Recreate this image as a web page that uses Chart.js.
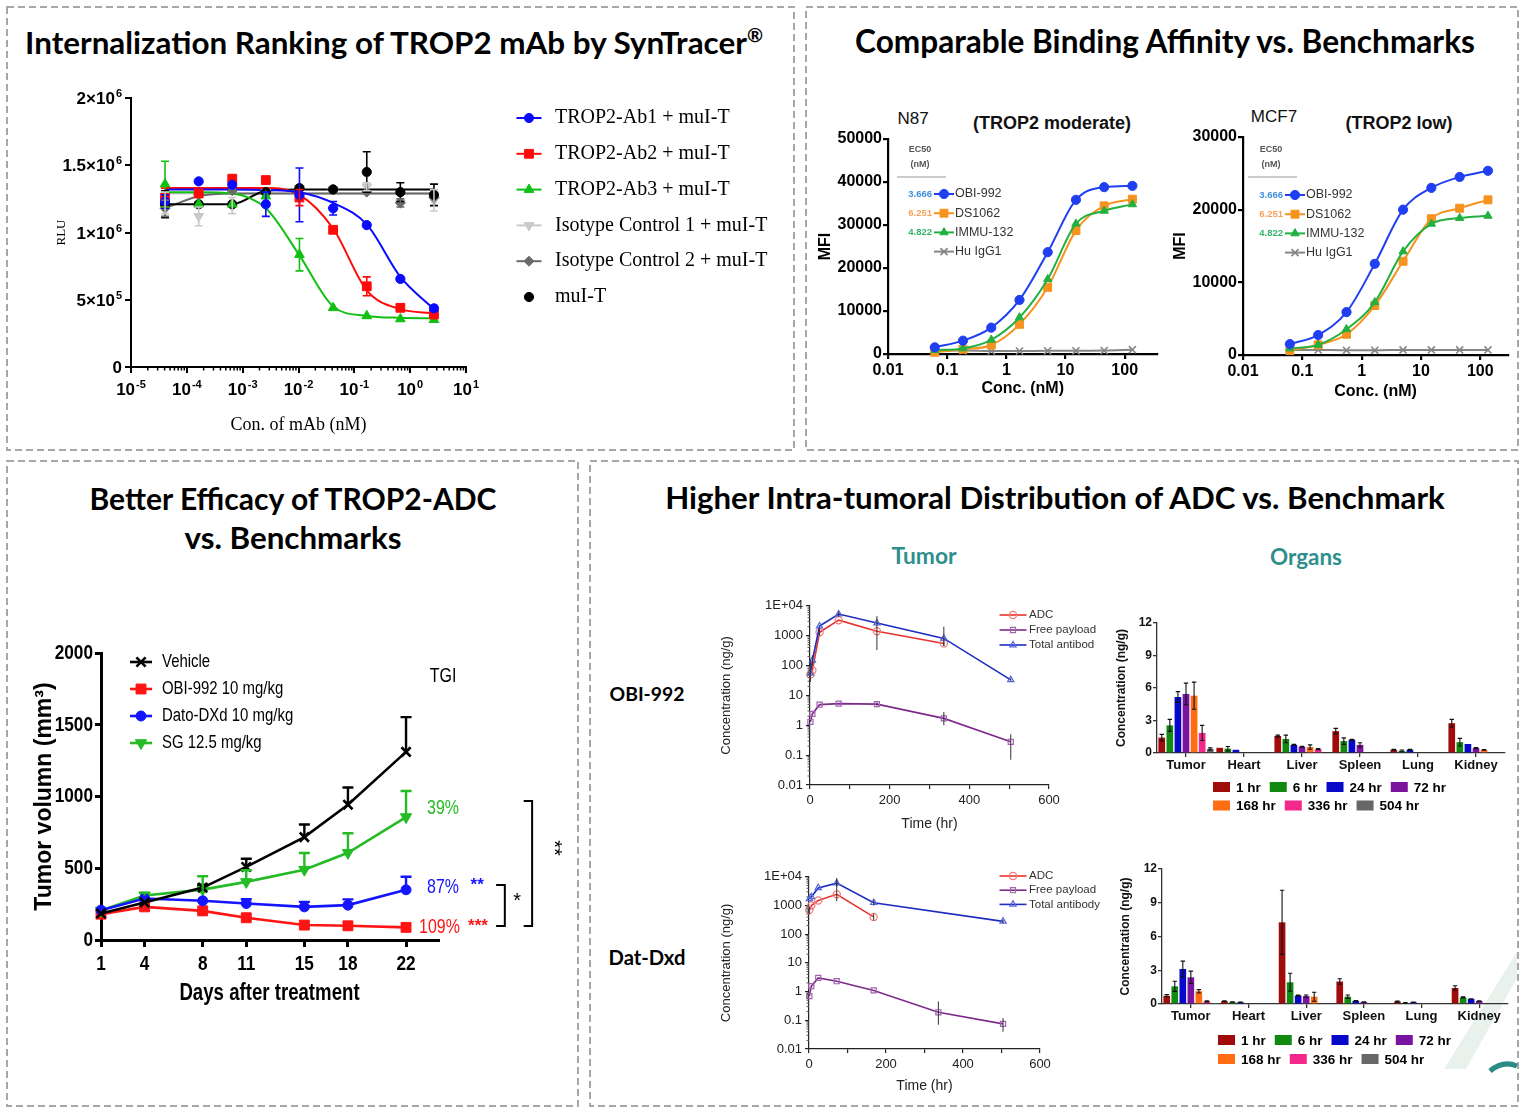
<!DOCTYPE html>
<html lang="en">
<head>
<meta charset="UTF-8" />
<title>TROP2 ADC overview</title>
<script src="https://cdn.jsdelivr.net/npm/chart.js@4.4.1/dist/chart.umd.min.js"></script>
<style>
  html, body { margin: 0; padding: 0; background: #fff; }
  body { position: relative; width: 1525px; height: 1113px; overflow: hidden; font-family: "Liberation Sans", Arial, sans-serif; }
  canvas { position: absolute; }
  #frames { position: absolute; left: 0; top: 0; }
  .t { position: absolute; white-space: nowrap; transform: translate(-50%, -50%); line-height: 1; }
  .title { font-family: Lato, "Open Sans", sans-serif; font-weight: 700; color: #000; }
  .teal { font-family: Lato, "Open Sans", sans-serif; font-weight: 700; color: #2f8f8c; }
  .reg { font-family: "Liberation Sans", Arial, sans-serif; color: #111; }
  .reg b { font-weight: 700; }
  .r { font-size: 0.62em; vertical-align: 0.62em; }
</style>
</head>
<body>
<svg id="frames" width="1525" height="1113">
  <g fill="none" stroke="#a8a8a8" stroke-width="2" stroke-dasharray="7 4">
    <rect x="7" y="7" width="787" height="443" />
    <rect x="806" y="7" width="712" height="443" />
    <rect x="7" y="461" width="571" height="645" />
    <rect x="590" y="461" width="928" height="645" />
  </g>
  <polygon points="1444,1069 1466,1069 1517,978 1517,952" fill="#e8f1ec" />
  <path d="M1490,1071 Q1503,1060 1517,1066" stroke="#2a8c84" stroke-width="5" fill="none" />
</svg>

<div class="t title" data-w="738" style="left:394px;top:42px;font-size:28px">Internalization Ranking of TROP2 mAb by SynTracer<span class="r">®</span></div>
<div class="t title" data-w="620" style="left:1165px;top:42px;font-size:28px">Comparable Binding Affinity vs. Benchmarks</div>
<div class="t title" data-w="407" style="left:293px;top:498px;font-size:28px">Better Efficacy of TROP2-ADC</div>
<div class="t title" data-w="217" style="left:293px;top:538px;font-size:28px">vs. Benchmarks</div>
<div class="t title" data-w="780" style="left:1055px;top:498px;font-size:28px">Higher Intra-tumoral Distribution of ADC vs. Benchmark</div>
<div class="t teal" data-w="65" style="left:924px;top:556px;font-size:20px">Tumor</div>
<div class="t teal" data-w="72" style="left:1306px;top:557px;font-size:20px">Organs</div>
<div class="t title" data-w="75" style="left:647px;top:694px;font-size:20px">OBI-992</div>
<div class="t title" data-w="77" style="left:647px;top:957px;font-size:20px">Dat-Dxd</div>
<div class="t reg" style="left:913px;top:118px;font-size:17px">N87</div>
<div class="t reg" style="left:1052px;top:123px;font-size:18px"><b>(TROP2 moderate)</b></div>
<div class="t reg" style="left:1274px;top:116px;font-size:17px">MCF7</div>
<div class="t reg" style="left:1399px;top:123px;font-size:18px"><b>(TROP2 low)</b></div>

<script>
// ---------------- data ----------------
// SynTracer internalization: RLU vs mAb concentration (nM)
const mabConc = [0.0000407, 0.000163, 0.000651, 0.0026, 0.0104, 0.0417, 0.167, 0.667, 2.667];
const mabTicks = [0.00001, 0.0001, 0.001, 0.01, 0.1, 1, 10];
const mabTickParts = [['10', '-5'], ['10', '-4'], ['10', '-3'], ['10', '-2'], ['10', '-1'], ['10', '0'], ['10', '1']];
const rluTicks = [0, 500000, 1000000, 1500000, 2000000];
const rluTickParts = [['0', ''], ['5×10', '5'], ['1×10', '6'], ['1.5×10', '6'], ['2×10', '6']];
const ab1Rlu = [1230000, 1380000, 1355000, 1210000, 1280000, 1180000, 1055000, 655000, 436000];
const ab1Err = [50000, 0, 0, 90000, 200000, 50000, 0, 0, 20000];
const ab1Fit = [1320000, 1320000, 1320000, 1316000, 1300000, 1220000, 1060000, 670000, 430000];
const ab2Rlu = [1260000, 1290000, 1400000, 1390000, 1260000, 1020000, 600000, 440000, 390000];
const ab2Err = [70000, 0, 0, 0, 60000, 0, 70000, 0, 0];
const ab2Fit = [1330000, 1330000, 1330000, 1330000, 1280000, 1030000, 570000, 430000, 400000];
const ab3Rlu = [1360000, 1210000, 1210000, 1270000, 835000, 440000, 380000, 357000, 352000];
const ab3Err = [170000, 0, 0, 0, 120000, 0, 0, 0, 0];
const ab3Fit = [1300000, 1300000, 1290000, 1180000, 830000, 450000, 380000, 366000, 362000];
const iso1Rlu = [1220000, 1120000, 1200000, 1300000, 1330000, 1320000, 1340000, 1220000, 1240000];
const iso1Err = [80000, 70000, 60000, 0, 0, 0, 30000, 0, 80000];
const iso1Fit = [1290000, 1290000, 1290000, 1290000, 1290000, 1290000, 1290000, 1290000, 1290000];
const iso2Rlu = [1180000, 1280000, 1310000, 1300000, 1330000, 1320000, 1300000, 1220000, 1260000];
const iso2Err = [60000, 0, 0, 0, 0, 0, 0, 30000, 0];
const iso2Fit = [1180000, 1270000, 1290000, 1290000, 1290000, 1290000, 1290000, 1290000, 1290000];
const muiRlu = [1210000, 1210000, 1210000, 1300000, 1330000, 1320000, 1450000, 1300000, 1280000];
const muiErr = [100000, 0, 0, 0, 0, 0, 150000, 70000, 80000];
const muiFit = [1210000, 1210000, 1210000, 1310000, 1320000, 1320000, 1320000, 1320000, 1320000];

// binding (MFI) vs concentration (nM)
const bindConc = [0.0617, 0.185, 0.556, 1.667, 5, 15, 45, 135];
const concTicks = [0.01, 0.1, 1, 10, 100];
const concTickLabels = ['0.01', '0.1', '1', '10', '100'];
const n87Obi = [1550, 3100, 6130, 12570, 23670, 35850, 38800, 39100];
const n87Ds = [400, 1100, 2100, 6900, 15500, 28700, 34450, 36000];
const n87Immu = [900, 1300, 3300, 8500, 17400, 30300, 33300, 34800];
const n87Igg = [800, 800, 700, 700, 750, 750, 800, 1000];
const mcf7Obi = [1500, 2750, 5900, 12550, 20000, 23000, 24500, 25350];
const mcf7Ds = [600, 1400, 2850, 6800, 12900, 18750, 20200, 21350];
const mcf7Immu = [900, 1400, 3550, 7250, 14250, 18050, 18850, 19150];
const mcf7Igg = [700, 700, 650, 650, 700, 700, 700, 700];
const ec50Labels = ['3.666', '6.251', '4.822'];

// xenograft efficacy: tumor volume (mm3), mean and SEM
const days = [1, 4, 8, 11, 15, 18, 22];
const vehicleVol = [185, 261, 365, 509, 717, 943, 1311];
const vehicleSem = [0, 0, 20, 57, 88, 120, 242];
const obiVol = [180, 231, 203, 155, 104, 99, 88];
const obiSem = [0, 0, 0, 0, 0, 0, 0];
const datoVol = [208, 289, 273, 254, 231, 243, 350];
const datoSem = [0, 0, 0, 30, 35, 40, 91];
const sgVol = [205, 310, 351, 405, 490, 608, 857];
const sgSem = [0, 20, 93, 81, 116, 136, 181];
const tgiLabels = ['39%', '87%', '109%'];

// tumor PK (ng/g) vs time (hr)
const pkHours = [1, 6, 24, 72, 168, 336, 504];
const pkTicks = [0.01, 0.1, 1, 10, 100, 1000, 10000];
const pkTickLabels = ['0.01', '0.1', '1', '10', '100', '1000', '1E+04'];
const obiAdc = [50, 70, 1300, 3300, 1400, 550, null];
const obiAdcRange = [null, null, [1000, 1800], null, [330, 4500], [450, 650], null];
const obiPayload = [1.3, 2.4, 4.9, 5.3, 5.1, 1.7, 0.28];
const obiPayloadRange = [null, null, null, null, [4.5, 5.8], [1.0, 2.8], [0.07, 0.5]];
const obiTotal = [55, 150, 2100, 5300, 2650, 810, 33];
const obiTotalRange = [[28, 160], [100, 220], null, [4300, 6300], null, [450, 2000], [30, 37]];
const dxdAdc = [700, 1000, 1500, 2450, 400, null, null];
const dxdAdcRange = [[500, 900], null, null, [1400, 9000], [300, 520], null, null];
const dxdPayload = [0.7, 1.55, 3.0, 2.3, 1.1, 0.19, 0.075];
const dxdPayloadRange = [null, null, null, null, null, [0.07, 0.45], [0.04, 0.12]];
const dxdTotal = [1700, 2000, 4100, 6000, 1250, null, 280];
const dxdTotalRange = [null, null, null, [4500, 8000], [1000, 1500], null, [240, 320]];

// organ payload concentration (ng/g) by time point
const organs = ['Tumor', 'Heart', 'Liver', 'Spleen', 'Lung', 'Kidney'];
const timeLabels = ['1 hr', '6 hr', '24 hr', '72 hr', '168 hr', '336 hr', '504 hr'];
const obiOrgan = [
  [1.42, 0.48, 1.57, 2.02, 0.30, 2.75],
  [2.55, 0.40, 1.30, 1.10, 0.20, 1.00],
  [5.17, 0.30, 0.75, 1.22, 0.30, 0.83],
  [5.45, null, 0.58, 0.75, null, 0.45],
  [5.29, null, 0.55, null, null, 0.30],
  [1.85, null, 0.35, null, null, null],
  [0.37, null, null, null, null, null]
];
const obiOrganSd = [
  [0.30, 0, 0.08, 0.25, 0.05, 0.35],
  [0.55, 0.20, 0.35, 0.30, 0.08, 0.35],
  [0.50, 0, 0.05, 0.05, 0.05, 0],
  [1.00, 0, 0.05, 0.20, 0, 0.05],
  [1.25, 0, 0.20, 0, 0, 0.03],
  [0.70, 0, 0.05, 0, 0, 0],
  [0.10, 0, 0, 0, 0, 0]
];
const dxdOrgan = [
  [0.74, 0.25, 7.26, 2.00, 0.22, 1.42],
  [1.57, 0.18, 1.93, 0.65, 0.10, 0.58],
  [3.11, 0.15, 0.75, 0.28, 0.15, 0.45],
  [2.37, null, 0.70, 0.18, null, 0.27],
  [1.13, null, 0.65, null, null, null],
  [0.24, null, null, null, null, null],
  [0.09, null, null, null, null, null]
];
const dxdOrganSd = [
  [0.10, 0.03, 2.85, 0.25, 0.05, 0.20],
  [0.45, 0.02, 0.80, 0.15, 0.02, 0.05],
  [0.70, 0.02, 0.05, 0.02, 0.02, 0.02],
  [0.55, 0, 0.10, 0.02, 0, 0.02],
  [0.15, 0, 0.40, 0, 0, 0],
  [0.05, 0, 0, 0, 0, 0],
  [0, 0, 0, 0, 0, 0]
];
const timeColors = ['#a00c0c', '#128a12', '#0808c8', '#7a149e', '#ff6c12', '#f4288a', '#676767'];

// ---------------- helpers ----------------
const SANS = '"Liberation Sans", Arial, sans-serif';
const SERIF = '"Liberation Serif", "Times New Roman", serif';
const NARROW_X = 0.82; // squeeze for the Arial Narrow look of the efficacy panel

Chart.defaults.font.family = SANS;
Chart.defaults.color = '#000';
Chart.defaults.plugins.legend.display = false;
Chart.defaults.plugins.tooltip.enabled = false;

const xy = (xs, ys) => xs.map((x, i) => ({ x, y: ys[i] }));
const blank = () => '';

function frame(color, width, tick) {
  return {
    grid: { display: true, drawOnChartArea: false, drawTicks: true, tickLength: tick, color, lineWidth: width },
    border: { display: true, color, width }
  };
}

function drawErrors(chart) {
  const ctx = chart.ctx;
  chart.data.datasets.forEach((ds, di) => {
    if (!ds.errors) return;
    const meta = chart.getDatasetMeta(di);
    const ys = chart.scales[meta.yAxisID];
    ctx.save();
    ctx.strokeStyle = ds.errorColor || ds.borderColor;
    ctx.lineWidth = ds.errorWidth || 1.5;
    ds.errors.forEach((e, i) => {
      const el = meta.data[i];
      const raw = ds.data[i];
      const v = raw !== null && typeof raw === 'object' ? raw.y : raw;
      if (!e || v === null || v === undefined || !el) return;
      let lo, hi;
      if (Array.isArray(e)) { lo = e[0]; hi = e[1]; }
      else { hi = v + e; lo = ds.errorMode === 'up' ? v : v - e; }
      const x = el.x;
      const y1 = ys.getPixelForValue(hi), y0 = ys.getPixelForValue(lo);
      const c = ds.errorCap === undefined ? 4 : ds.errorCap;
      ctx.beginPath();
      ctx.moveTo(x, y0); ctx.lineTo(x, y1);
      if (c > 0) {
        ctx.moveTo(x - c, y1); ctx.lineTo(x + c, y1);
        if (ds.errorMode !== 'up') { ctx.moveTo(x - c, y0); ctx.lineTo(x + c, y0); }
      }
      ctx.stroke();
    });
    ctx.restore();
  });
}

function drawMarker(ctx, ds, x, y) {
  const bw = ds.pointBorderWidth === undefined ? 1 : ds.pointBorderWidth;
  ctx.save();
  ctx.fillStyle = ds.pointBackgroundColor || ds.borderColor;
  ctx.strokeStyle = ds.pointBorderColor || ds.borderColor;
  ctx.lineWidth = bw;
  Chart.helpers.drawPoint(ctx, {
    pointStyle: ds.pointStyle || 'circle', radius: ds.pointRadius || 3,
    rotation: ds.pointRotation || 0, borderWidth: bw
  }, x, y);
  ctx.restore();
}

const findSet = (chart, key) => chart.data.datasets.find(d => d.key === key);

function squeezedText(ctx, text, x, y, sx, align) {
  ctx.save();
  ctx.translate(x, y);
  ctx.scale(sx || 1, 1);
  ctx.textAlign = align || 'left';
  ctx.fillText(text, 0, 0);
  ctx.restore();
}

function drawLegend(chart, lg) {
  const ctx = chart.ctx, ox = chart.canvas.offsetLeft, oy = chart.canvas.offsetTop;
  ctx.save();
  ctx.textBaseline = 'middle';
  lg.items.forEach((it, i) => {
    const ds = findSet(chart, it.mark);
    const ls = findSet(chart, it.line || it.mark);
    const x = lg.x - ox, y = lg.y - oy + i * lg.gap;
    if (it.noLine !== true) {
      ctx.strokeStyle = ls.borderColor;
      ctx.lineWidth = ls.borderWidth || 2;
      ctx.beginPath(); ctx.moveTo(x - lg.len / 2, y); ctx.lineTo(x + lg.len / 2, y); ctx.stroke();
    }
    drawMarker(ctx, ds, x, y);
    if (it.pre) {
      ctx.font = lg.preFont; ctx.fillStyle = it.preColor;
      squeezedText(ctx, it.pre, x - lg.len / 2 - 2, y, 1, 'right');
    }
    ctx.font = lg.font; ctx.fillStyle = lg.color || '#000';
    squeezedText(ctx, it.text, x + lg.dx, y + (lg.dy || 0), lg.sx, 'left');
  });
  ctx.restore();
}

function drawBoxLegend(chart, lg) {
  const ctx = chart.ctx, ox = chart.canvas.offsetLeft, oy = chart.canvas.offsetTop;
  ctx.save();
  ctx.font = lg.font; ctx.textBaseline = 'middle'; ctx.textAlign = 'left';
  let x = lg.x - ox, y = lg.y - oy;
  chart.data.datasets.forEach((ds, i) => {
    if (i === lg.breakAfter) { x = lg.x - ox; y += lg.rowGap; }
    ctx.fillStyle = ds.backgroundColor;
    ctx.fillRect(x, y - lg.bh / 2, lg.bw, lg.bh);
    ctx.fillStyle = '#000';
    ctx.fillText(ds.label, x + lg.bw + lg.gap, y + 1);
    x += lg.bw + lg.gap + ctx.measureText(ds.label).width + lg.spacing;
  });
  ctx.restore();
}

// notes: text / polylines, either in page pixels or in data units (data: true)
function drawNotes(chart, notes) {
  const ctx = chart.ctx, ox = chart.canvas.offsetLeft, oy = chart.canvas.offsetTop;
  const sx = chart.scales.x, sy = chart.scales.y;
  const pos = (n, x, y) => n.data ? [sx.getPixelForValue(x), sy.getPixelForValue(y)] : [x - ox, y - oy];
  ctx.save();
  notes.forEach(n => {
    if (n.pts) {
      ctx.strokeStyle = n.color || '#000'; ctx.lineWidth = n.width || 1.5;
      ctx.beginPath();
      n.pts.forEach((p, i) => { const [px, py] = pos(n, p[0], p[1]); i ? ctx.lineTo(px, py) : ctx.moveTo(px, py); });
      ctx.stroke();
      return;
    }
    const [px, py] = pos(n, n.x, n.y);
    ctx.save();
    ctx.translate(px, py);
    if (n.rot) ctx.rotate(n.rot * Math.PI / 180);
    ctx.scale(n.sx || 1, 1);
    ctx.font = n.font; ctx.fillStyle = n.color || '#000';
    ctx.textAlign = n.align || 'center'; ctx.textBaseline = 'middle';
    ctx.fillText(n.text, 0, 0);
    ctx.restore();
  });
  ctx.restore();
}

function drawMinor(chart, m) {
  const s = chart.scales[m.axis], ctx = chart.ctx;
  ctx.save();
  ctx.strokeStyle = m.color || '#000'; ctx.lineWidth = m.width || 1;
  ctx.beginPath();
  for (let e = Math.floor(Math.log10(s.min)); e <= Math.ceil(Math.log10(s.max)); e++) {
    for (let k = 2; k <= 9; k++) {
      const v = k * Math.pow(10, e);
      if (v < s.min || v > s.max) continue;
      const p = s.getPixelForValue(v);
      if (s.isHorizontal()) { ctx.moveTo(p, s.top); ctx.lineTo(p, s.top + m.len); }
      else { ctx.moveTo(s.right, p); ctx.lineTo(s.right - m.len, p); }
    }
  }
  ctx.stroke();
  ctx.restore();
}

// tick labels drawn as base + raised exponent (10^-5, 2x10^6)
function drawPowLabels(chart, p) {
  const s = chart.scales[p.axis], ctx = chart.ctx;
  ctx.save();
  ctx.fillStyle = '#000'; ctx.textBaseline = 'alphabetic'; ctx.textAlign = 'left';
  s.ticks.forEach((t, i) => {
    const [base, exp] = p.parts[i];
    ctx.font = p.font; const wb = ctx.measureText(base).width;
    ctx.font = p.expFont; const we = exp ? ctx.measureText(exp).width + 1 : 0;
    const v = s.getPixelForValue(t.value);
    let x0, y0;
    if (s.isHorizontal()) { x0 = v - (wb + we) / 2; y0 = s.top + p.gap; }
    else { x0 = s.right - p.gap - wb - we; y0 = v + p.base; }
    ctx.font = p.font; ctx.fillText(base, x0, y0);
    if (exp) { ctx.font = p.expFont; ctx.fillText(exp, x0 + wb + 1, y0 - p.rise); }
  });
  ctx.restore();
}

// squeezed tick labels (value text) for the narrow-font panel
function drawTickText(chart, p) {
  const s = chart.scales[p.axis], ctx = chart.ctx;
  ctx.save();
  ctx.font = p.font; ctx.fillStyle = p.color || '#000'; ctx.textBaseline = 'middle';
  s.ticks.forEach(t => {
    const v = s.getPixelForValue(t.value);
    if (s.isHorizontal()) squeezedText(ctx, String(t.value), v, s.top + p.gap, p.sx, 'center');
    else squeezedText(ctx, String(t.value), s.right - p.gap, v, p.sx, 'right');
  });
  ctx.restore();
}

Chart.register({
  id: 'overlay',
  afterDatasetsDraw(chart) { drawErrors(chart); },
  afterDraw(chart) {
    const ex = chart.canvas.extra || {};
    if (ex.minor) ex.minor.forEach(m => drawMinor(chart, m));
    if (ex.pow) ex.pow.forEach(p => drawPowLabels(chart, p));
    if (ex.tickText) ex.tickText.forEach(p => drawTickText(chart, p));
    if (ex.legend) drawLegend(chart, ex.legend);
    if (ex.boxLegend) drawBoxLegend(chart, ex.boxLegend);
    if (ex.notes) drawNotes(chart, ex.notes);
  }
});

// box: canvas rectangle on the page, area: wanted plot area on the page
function makeChart(box, area, config, extra) {
  const canvas = document.createElement('canvas');
  canvas.width = box.w; canvas.height = box.h;
  canvas.style.left = box.x + 'px'; canvas.style.top = box.y + 'px';
  canvas.style.width = box.w + 'px'; canvas.style.height = box.h + 'px';
  canvas.extra = extra || {};
  document.body.appendChild(canvas);
  const o = config.options;
  o.responsive = false;
  o.animation = false;
  o.layout = { padding: { left: 0, top: area.t - box.y, right: box.x + box.w - area.r, bottom: 0 } };
  o.scales.x.afterFit = s => { s.height = box.y + box.h - area.b; };
  o.scales.y.afterFit = s => { s.width = area.l - box.x; };
  return new Chart(canvas, config);
}

function markSet(key, pts, errs, color, style, r, rot, errColor) {
  return {
    key, data: pts, showLine: false, clip: false,
    pointStyle: style, pointRadius: r, pointRotation: rot || 0, pointBorderWidth: 1,
    pointBackgroundColor: color, pointBorderColor: color, borderColor: color, backgroundColor: color,
    errors: errs, errorColor: errColor || color, errorCap: 4, errorWidth: 1.6
  };
}
function fitSet(key, pts, color, width) {
  return {
    key, data: pts, borderColor: color, borderWidth: width || 2, pointRadius: 0,
    cubicInterpolationMode: 'monotone', clip: false
  };
}

// ---------------- A: internalization ----------------
makeChart({ x: 40, y: 78, w: 740, h: 372 }, { l: 131, r: 466, t: 98, b: 367 }, {
  type: 'line',
  data: {
    datasets: [
      markSet('ab1', xy(mabConc, ab1Rlu), ab1Err, '#0a0aff', 'circle', 4.6),
      markSet('ab2', xy(mabConc, ab2Rlu), ab2Err, '#ff0a0a', 'rect', 6.2),
      markSet('ab3', xy(mabConc, ab3Rlu), ab3Err, '#12c012', 'triangle', 5.6),
      markSet('mui', xy(mabConc, muiRlu), muiErr, '#000000', 'circle', 4.6),
      markSet('iso2', xy(mabConc, iso2Rlu), iso2Err, '#6a6a6a', 'rectRot', 5),
      markSet('iso1', xy(mabConc, iso1Rlu), iso1Err, '#c9c9c9', 'triangle', 5.6, 180),
      fitSet('ab1Fit', xy(mabConc, ab1Fit), '#0a0aff'),
      fitSet('ab2Fit', xy(mabConc, ab2Fit), '#ff0a0a'),
      fitSet('ab3Fit', xy(mabConc, ab3Fit), '#12c012'),
      fitSet('muiFit', xy(mabConc, muiFit), '#000000'),
      fitSet('iso2Fit', xy(mabConc, iso2Fit), '#6a6a6a'),
      fitSet('iso1Fit', xy(mabConc, iso1Fit), '#c9c9c9')
    ]
  },
  options: {
    scales: {
      x: {
        type: 'logarithmic', min: 0.00001, max: 10,
        afterBuildTicks: s => { s.ticks = mabTicks.map(v => ({ value: v })); },
        ...frame('#000', 2, 6),
        ticks: { font: { size: 16, weight: 'bold' }, padding: 6, maxRotation: 0, callback: blank },
        title: { display: true, text: 'Con. of mAb (nM)', font: { family: SERIF, size: 18 }, padding: { top: 0, bottom: 14 } }
      },
      y: {
        min: 0, max: 2000000,
        afterBuildTicks: s => { s.ticks = rluTicks.map(v => ({ value: v })); },
        ...frame('#000', 2, 6),
        ticks: { font: { size: 16, weight: 'bold' }, padding: 1, callback: blank },
        title: { display: true, text: 'RLU', font: { family: SERIF, size: 13 }, padding: { top: 14, bottom: 0 } }
      }
    }
  }
}, {
  minor: [{ axis: 'x', len: 3.5, width: 1.5 }],
  pow: [
    { axis: 'x', parts: mabTickParts, font: 'bold 17px ' + SANS, expFont: 'bold 11px ' + SANS, gap: 28, rise: 7 },
    { axis: 'y', parts: rluTickParts, font: 'bold 17px ' + SANS, expFont: 'bold 11px ' + SANS, gap: 9, base: 6, rise: 7 }
  ],
  legend: {
    x: 529, y: 118, gap: 35.8, len: 25, dx: 26, font: '20px ' + SERIF, color: '#000',
    items: [
      { text: 'TROP2-Ab1 + muI-T', mark: 'ab1', line: 'ab1Fit' },
      { text: 'TROP2-Ab2 + muI-T', mark: 'ab2', line: 'ab2Fit' },
      { text: 'TROP2-Ab3 + muI-T', mark: 'ab3', line: 'ab3Fit' },
      { text: 'Isotype Control 1 + muI-T', mark: 'iso1', line: 'iso1Fit' },
      { text: 'Isotype Control 2 + muI-T', mark: 'iso2', line: 'iso2Fit' },
      { text: 'muI-T', mark: 'mui', noLine: true }
    ]
  }
});

// ---------------- B: binding ----------------
function bindSet(key, ys, color, style, r, bw) {
  return {
    key, data: xy(bindConc, ys), borderColor: color, borderWidth: 2, clip: false,
    pointStyle: style, pointRadius: r, pointBorderWidth: bw || 1,
    pointBackgroundColor: color, pointBorderColor: color, cubicInterpolationMode: 'monotone'
  };
}
const ec50Colors = ['#3d8fdc', '#f5a25a', '#35b46a'];
function bindChart(box, area, xMax, yMax, sets, lg) {
  return makeChart(box, area, {
    type: 'line',
    data: { datasets: sets },
    options: {
      scales: {
        x: {
          type: 'logarithmic', min: 0.01, max: xMax,
          afterBuildTicks: s => { s.ticks = concTicks.map(v => ({ value: v })); },
          ...frame('#000', 2.2, 5),
          ticks: { font: { size: 16, weight: 'bold' }, padding: 2, maxRotation: 0, callback: (v, i) => concTickLabels[i] },
          title: { display: true, text: 'Conc. (nM)', font: { size: 16, weight: 'bold' }, padding: { top: 0, bottom: lg.titlePad } }
        },
        y: {
          min: 0, max: yMax,
          ...frame('#000', 2.2, 5),
          ticks: { font: { size: 16, weight: 'bold' }, padding: 1, stepSize: 10000, callback: v => String(v) },
          title: { display: true, text: 'MFI', font: { size: 16, weight: 'bold' }, padding: { top: lg.yTitlePad, bottom: 0 } }
        }
      }
    }
  }, {
    legend: {
      x: lg.x, y: lg.y, gap: 19.2, len: 20, dx: 11, font: '12.5px ' + SANS, color: '#333',
      preFont: 'bold 9.5px ' + SANS,
      items: [
        { text: 'OBI-992', mark: 'obi', pre: ec50Labels[0], preColor: ec50Colors[0] },
        { text: 'DS1062', mark: 'ds', pre: ec50Labels[1], preColor: ec50Colors[1] },
        { text: 'IMMU-132', mark: 'immu', pre: ec50Labels[2], preColor: ec50Colors[2] },
        { text: 'Hu IgG1', mark: 'igg' }
      ]
    },
    notes: [
      { text: 'EC50', x: lg.hx, y: 150, font: 'bold 9px ' + SANS, color: '#555' },
      { text: '(nM)', x: lg.hx, y: 165, font: 'bold 9px ' + SANS, color: '#555' },
      { pts: [[lg.hx - 23, 177], [lg.hx + 26, 177]], color: '#9a9a9a', width: 1.2 }
    ]
  });
}
bindChart({ x: 812, y: 105, w: 352, h: 303 }, { l: 888, r: 1158, t: 139, b: 354 }, 357, 50000, [
  bindSet('obi', n87Obi, '#1f3ff0', 'circle', 4.6),
  bindSet('immu', n87Immu, '#22b040', 'triangle', 4.8),
  bindSet('ds', n87Ds, '#f7921e', 'rect', 5.6),
  bindSet('igg', n87Igg, '#858585', 'crossRot', 5, 1.6)
], { x: 944, y: 194, hx: 920, titlePad: 10, yTitlePad: 4 });
bindChart({ x: 1170, y: 105, w: 345, h: 303 }, { l: 1243, r: 1508, t: 137, b: 355 }, 294, 30000, [
  bindSet('obi', mcf7Obi, '#1f3ff0', 'circle', 4.6),
  bindSet('immu', mcf7Immu, '#22b040', 'triangle', 4.8),
  bindSet('ds', mcf7Ds, '#f7921e', 'rect', 5.6),
  bindSet('igg', mcf7Igg, '#858585', 'crossRot', 5, 1.6)
], { x: 1295, y: 195, hx: 1271, titlePad: 7, yTitlePad: 1 });

// ---------------- C: efficacy ----------------
function volSet(key, ys, errs, color, style, r, rot, bw) {
  return {
    key, data: xy(days, ys), borderColor: color, borderWidth: 2.6, clip: false,
    pointStyle: style, pointRadius: r, pointRotation: rot || 0, pointBorderWidth: bw || 1,
    pointBackgroundColor: color, pointBorderColor: color,
    errors: errs, errorMode: 'up', errorColor: color, errorCap: 5.5, errorWidth: 2.4
  };
}
const tgiFont = '21px ' + SANS;
const TGI_X = 0.76;
makeChart({ x: 15, y: 630, w: 560, h: 390 }, { l: 101, r: 438, t: 653, b: 940 }, {
  type: 'line',
  data: {
    datasets: [
      volSet('veh', vehicleVol, vehicleSem, '#000000', 'crossRot', 6.5, 0, 2.6),
      volSet('dato', datoVol, datoSem, '#1414ff', 'circle', 5),
      volSet('sg', sgVol, sgSem, '#24bb24', 'triangle', 6.5, 180),
      volSet('obi', obiVol, obiSem, '#ff1414', 'rect', 7)
    ]
  },
  options: {
    scales: {
      x: {
        type: 'linear', min: 1, max: 24.2,
        afterBuildTicks: s => { s.ticks = days.map(v => ({ value: v })); },
        ...frame('#000', 3, 7),
        ticks: { padding: 4, maxRotation: 0, callback: blank },
        title: { display: false }
      },
      y: {
        min: 0, max: 2000,
        ...frame('#000', 3, 6),
        ticks: { padding: 2, stepSize: 500, callback: blank },
        title: { display: true, text: 'Tumor volumn (mm³)', font: { size: 23, weight: 'bold' }, padding: { top: 16, bottom: 0 } }
      }
    }
  }
}, {
  tickText: [
    { axis: 'x', font: 'bold 21px ' + SANS, sx: NARROW_X, gap: 24 },
    { axis: 'y', font: 'bold 21px ' + SANS, sx: NARROW_X, gap: 8 }
  ],
  legend: {
    x: 141, y: 662, gap: 27, len: 22, dx: 21, font: '18px ' + SANS, sx: 0.83, color: '#000',
    items: [
      { text: 'Vehicle', mark: 'veh' },
      { text: 'OBI-992 10 mg/kg', mark: 'obi' },
      { text: 'Dato-DXd 10 mg/kg', mark: 'dato' },
      { text: 'SG 12.5 mg/kg', mark: 'sg' }
    ]
  },
  notes: [
    { text: 'Days after treatment', x: 269.5, y: 994, font: 'bold 23px ' + SANS, sx: 0.81 },
    { data: true, text: 'TGI', x: 24.55, y: 1840, font: tgiFont, sx: TGI_X, color: '#000' },
    { data: true, text: tgiLabels[0], x: 24.55, y: 920, font: tgiFont, sx: TGI_X, color: '#24bb24' },
    { data: true, text: tgiLabels[1], x: 24.55, y: 369, font: tgiFont, sx: TGI_X, color: '#1414ff' },
    { data: true, text: '**', x: 26.9, y: 383, font: 'bold 17px ' + SANS, color: '#1414ff' },
    { data: true, text: tgiLabels[2], x: 24.3, y: 91, font: tgiFont, sx: TGI_X, color: '#ff1414' },
    { data: true, text: '***', x: 26.95, y: 98, font: 'bold 17px ' + SANS, color: '#ff1414' },
    { data: true, pts: [[28.2, 383], [28.8, 383], [28.8, 98], [28.2, 98]], color: '#000', width: 2 },
    { data: true, text: '*', x: 29.65, y: 265, font: '20px ' + SANS, color: '#000' },
    { data: true, pts: [[30.1, 969], [30.68, 969], [30.68, 98], [30.1, 98]], color: '#000', width: 2 },
    { data: true, text: '**', x: 32.15, y: 641, rot: 90, font: '20px ' + SANS, color: '#000' }
  ]
});

// ---------------- D: tumor PK ----------------
function pkSet(key, ys, ranges, line, mark, style) {
  return {
    key, data: xy(pkHours, ys), borderColor: line, borderWidth: 1.6, clip: false, spanGaps: true,
    pointStyle: style, pointRadius: 3.6, pointBorderWidth: 1.2,
    pointBackgroundColor: 'rgba(255,255,255,0)', pointBorderColor: mark,
    errors: ranges, errorColor: '#333', errorWidth: 1, errorCap: 0
  };
}
function pkChart(box, area, sets, lg, titlePad) {
  return makeChart(box, area, {
    type: 'line',
    data: { datasets: sets },
    options: {
      scales: {
        x: {
          type: 'linear', min: 0, max: 600,
          ...frame('#222', 1.2, 4),
          ticks: { font: { size: 13 }, color: '#222', padding: 4, stepSize: 100, maxRotation: 0, callback: v => (v % 200 === 0 ? String(v) : '') },
          title: { display: true, text: 'Time (hr)', font: { size: 14 }, color: '#222', padding: { top: 0, bottom: titlePad } }
        },
        y: {
          type: 'logarithmic', min: 0.01, max: 10000,
          afterBuildTicks: s => { s.ticks = pkTicks.map(v => ({ value: v })); },
          ...frame('#222', 1.2, 4),
          ticks: { font: { size: 13 }, color: '#222', padding: 3, callback: (v, i) => pkTickLabels[i] },
          title: { display: true, text: 'Concentration (ng/g)', font: { size: 13 }, color: '#222', padding: { top: 4, bottom: 0 } }
        }
      }
    }
  }, {
    minor: [{ axis: 'y', len: 2.5, width: 1, color: '#555' }],
    legend: { x: 1013, y: lg.y, gap: lg.gap, len: 27, dx: 16, font: '11.5px ' + SANS, color: '#333', items: lg.items }
  });
}
pkChart({ x: 715, y: 595, w: 395, h: 245 }, { l: 810, r: 1049, t: 605, b: 785 }, [
  pkSet('tot', obiTotal, obiTotalRange, '#1c2cc0', '#5565dc', 'triangle'),
  pkSet('adc', obiAdc, obiAdcRange, '#e8322d', '#f07a78', 'circle'),
  pkSet('pay', obiPayload, obiPayloadRange, '#7d2a8a', '#a064b0', 'rect')
], { y: 615, gap: 15, items: [
  { text: 'ADC', mark: 'adc' }, { text: 'Free payload', mark: 'pay' }, { text: 'Total antibod', mark: 'tot' }
] }, 7);
pkChart({ x: 715, y: 866, w: 395, h: 232 }, { l: 809, r: 1040, t: 876, b: 1049 }, [
  pkSet('tot', dxdTotal, dxdTotalRange, '#1c2cc0', '#5565dc', 'triangle'),
  pkSet('adc', dxdAdc, dxdAdcRange, '#e8322d', '#f07a78', 'circle'),
  pkSet('pay', dxdPayload, dxdPayloadRange, '#7d2a8a', '#a064b0', 'rect')
], { y: 876, gap: 14.2, items: [
  { text: 'ADC', mark: 'adc' }, { text: 'Free payload', mark: 'pay' }, { text: 'Total antibody', mark: 'tot' }
] }, 3);

// ---------------- D: organ distribution ----------------
function organChart(box, area, values, sds, lg) {
  return makeChart(box, area, {
    type: 'bar',
    data: {
      labels: organs,
      datasets: timeLabels.map((t, i) => ({
        label: t, data: values[i], backgroundColor: timeColors[i],
        barPercentage: 0.83, categoryPercentage: 0.975,
        errors: sds[i], errorColor: '#111', errorWidth: 1.1, errorCap: 2.2
      }))
    },
    options: {
      scales: {
        x: {
          ...frame('#333', 1.3, 4),
          grid: { display: true, drawOnChartArea: false, drawTicks: true, tickLength: 4, color: '#333', lineWidth: 1.3, offset: false },
          ticks: { font: { size: 13, weight: 'bold' }, color: '#111', padding: 1, maxRotation: 0 }
        },
        y: {
          min: 0, max: 12,
          ...frame('#333', 1.3, 4),
          ticks: { font: { size: 12, weight: 'bold' }, color: '#111', padding: 1, stepSize: 3 },
          title: { display: true, text: 'Concentration (ng/g)', font: { size: 12, weight: 'bold' }, color: '#111', padding: { top: lg.yTitlePad, bottom: 0 } }
        }
      }
    }
  }, {
    boxLegend: { x: lg.x, y: lg.y, rowGap: lg.rowGap, breakAfter: 4, bw: 17, bh: 10, gap: 6, spacing: 9, font: 'bold 13.5px ' + SANS }
  });
}
organChart({ x: 1108, y: 612, w: 405, h: 205 }, { l: 1157, r: 1505, t: 623, b: 753 }, obiOrgan, obiOrganSd,
  { x: 1213, y: 787, rowGap: 18.5, yTitlePad: 6 });
organChart({ x: 1110, y: 858, w: 405, h: 212 }, { l: 1162, r: 1508, t: 869, b: 1004 }, dxdOrgan, dxdOrganSd,
  { x: 1218, y: 1040, rowGap: 19, yTitlePad: 8 });

// size the Calibri-like headings to their measured widths
document.querySelectorAll('[data-w]').forEach(el => {
  const target = +el.dataset.w;
  const fs = parseFloat(el.style.fontSize);
  const w = el.getBoundingClientRect().width;
  if (w > 0) el.style.fontSize = (fs * target / w).toFixed(2) + 'px';
});
</script>
</body>
</html>
